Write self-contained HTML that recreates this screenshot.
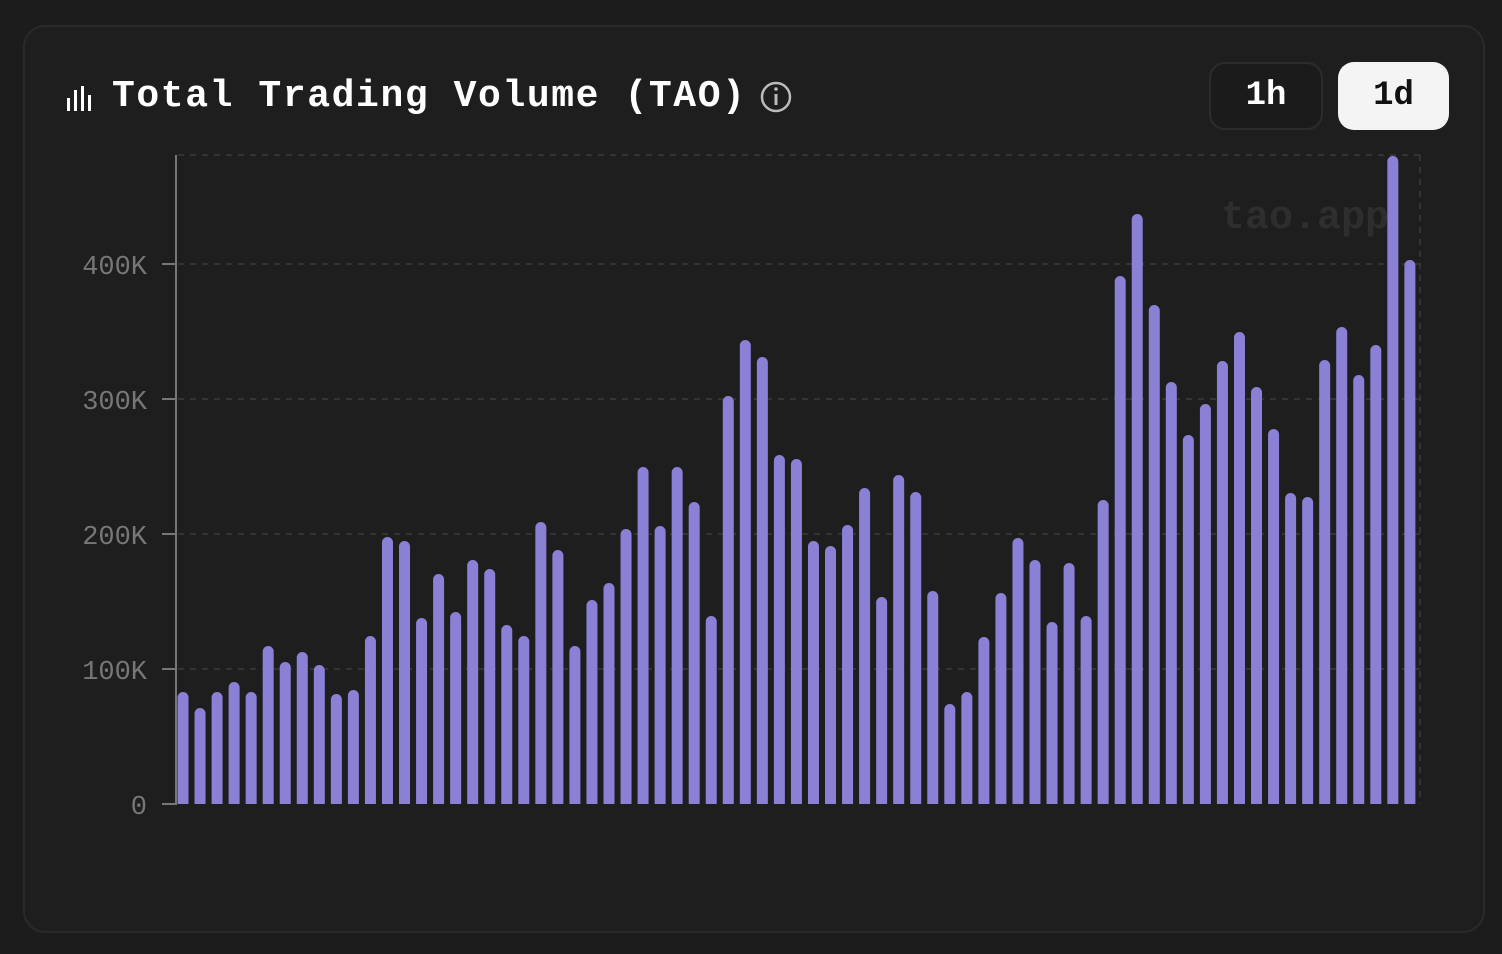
<!DOCTYPE html>
<html><head><meta charset="utf-8"><style>
html,body{margin:0;padding:0;background:#1c1c1c;width:1502px;height:954px;overflow:hidden}
.card{position:absolute;left:23px;top:25px;width:1462px;height:908px;border:2px solid #2a2a2a;border-radius:22px;background:#1e1e1e;box-sizing:border-box}
.title{position:absolute;left:112px;top:75px;color:#fff;font:bold 38px "Liberation Mono",monospace;letter-spacing:1.6px}
.btn{position:absolute;top:62px;height:68px;border-radius:16px;font:bold 34px "Liberation Mono",monospace;display:flex;align-items:center;justify-content:center}
</style></head><body>
<div class="card"></div>
<svg style="position:absolute;left:0;top:0" width="1502" height="954">
<g fill="#fff"><rect x="67" y="98" width="3" height="13"/><rect x="74" y="90" width="3" height="21"/><rect x="81" y="86" width="3" height="25"/><rect x="88" y="95" width="3" height="16"/></g>
<circle cx="776" cy="97" r="14" fill="none" stroke="#bbb" stroke-width="2.5"/>
<rect x="774.5" y="94" width="3" height="11" fill="#bbb"/><circle cx="776" cy="89" r="1.8" fill="#bbb"/>
<g stroke="#3a3a3a" stroke-dasharray="6,6" stroke-width="1.5">
<line x1="178" y1="155" x2="1420" y2="155"/><line x1="178" y1="264" x2="1420" y2="264"/><line x1="178" y1="399" x2="1420" y2="399"/><line x1="178" y1="534" x2="1420" y2="534"/><line x1="178" y1="669" x2="1420" y2="669"/><line x1="1420" y1="155" x2="1420" y2="804"/>
</g>
<text x="1305" y="228" text-anchor="middle" fill="#2e2e2e" font-family="Liberation Mono,monospace" font-weight="bold" font-size="40">tao.app</text>
<g fill="#777" font-family="Liberation Mono,monospace" font-size="27" text-anchor="end">
<text x="147" y="274">400K</text><text x="147" y="409">300K</text><text x="147" y="544">200K</text><text x="147" y="679">100K</text><text x="147" y="814">0</text>
</g>
<g fill="#8a80d6" id="bars"></g>
<line x1="176" y1="155" x2="176" y2="805" stroke="#777" stroke-width="2"/>
<line x1="162" y1="804" x2="176" y2="804" stroke="#777" stroke-width="2"/>
<line x1="162" y1="264" x2="176" y2="264" stroke="#777" stroke-width="2"/>
<line x1="162" y1="399" x2="176" y2="399" stroke="#777" stroke-width="2"/>
<line x1="162" y1="534" x2="176" y2="534" stroke="#777" stroke-width="2"/>
<line x1="162" y1="669" x2="176" y2="669" stroke="#777" stroke-width="2"/>
</svg>
<div class="title">Total Trading Volume (TAO)</div>
<div class="btn" style="left:1209px;width:114px;border:2px solid #2c2c2c;color:#fff;box-sizing:border-box;background:#1b1b1b">1h</div>
<div class="btn" style="left:1338px;width:111px;background:#f4f4f4;color:#111">1d</div>
<script>
var t=[692,708,692,682,692,646,662,652,665,694,690,636,537,541,618,574,612,560,569,625,636,522,550,646,600,583,529,467,526,467,502,616,396,340,357,455,459,541,546,525,488,597,475,492,591,704,692,637,593,538,560,622,563,616,500,276,214,305,382,435,404,361,332,387,429,493,497,360,327,375,345,156,260];
var g=document.getElementById('bars'),s='';
for(var i=0;i<t.length;i++){var x=183+i*17.04-5.5;s+='<rect x="'+x+'" y="'+t[i]+'" width="11" height="'+(804-t[i]+6)+'" rx="5.5"/>';}
s+='<rect x="170" y="804" width="1260" height="10" fill="#1e1e1e"/>';
g.innerHTML=s;
</script>
</body></html>
